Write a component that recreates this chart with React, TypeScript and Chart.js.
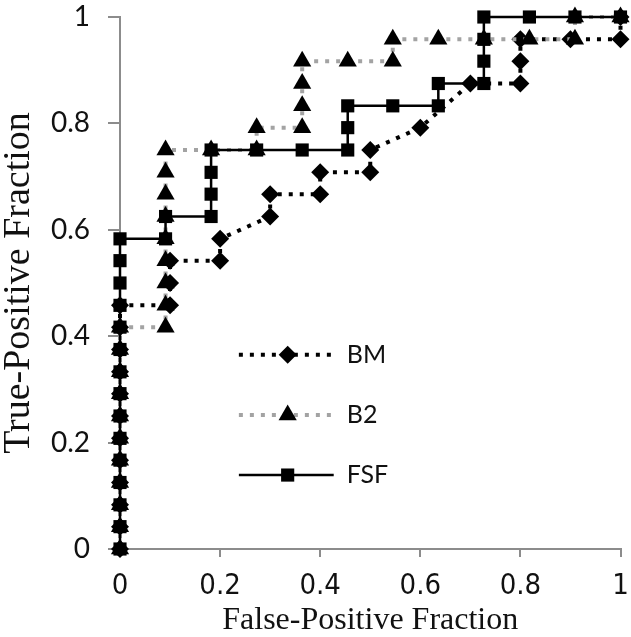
import React, { useEffect, useRef } from "react";
import { Chart, registerables } from "chart.js";

Chart.register(...registerables);

// ---- data ----
const seriesNames = ["BM", "B2", "FSF"];

const bmX = [0, 0, 0, 0, 0, 0, 0, 0, 0, 0, 0, 0, 0.1, 0.1, 0.1, 0.2, 0.2, 0.3, 0.3, 0.4, 0.4, 0.5, 0.5, 0.6, 0.7, 0.8, 0.8, 0.8, 0.9, 1, 1];
const bmY = [0, 0.042, 0.083, 0.125, 0.167, 0.208, 0.25, 0.292, 0.333, 0.375, 0.417, 0.458, 0.458, 0.5, 0.542, 0.542, 0.583, 0.625, 0.667, 0.667, 0.708, 0.708, 0.75, 0.792, 0.875, 0.875, 0.917, 0.958, 0.958, 0.958, 1];

const b2X = [0, 0, 0, 0, 0, 0, 0, 0, 0, 0, 0, 0.091, 0.091, 0.091, 0.091, 0.091, 0.091, 0.091, 0.091, 0.091, 0.182, 0.273, 0.273, 0.364, 0.364, 0.364, 0.364, 0.455, 0.545, 0.545, 0.636, 0.727, 0.818, 0.909, 0.909, 1];
const b2Y = [0, 0.042, 0.083, 0.125, 0.167, 0.208, 0.25, 0.292, 0.333, 0.375, 0.417, 0.417, 0.458, 0.5, 0.542, 0.583, 0.625, 0.667, 0.708, 0.75, 0.75, 0.75, 0.792, 0.792, 0.833, 0.875, 0.917, 0.917, 0.917, 0.958, 0.958, 0.958, 0.958, 0.958, 1, 1];

const fsfX = [0, 0, 0, 0, 0, 0, 0, 0, 0, 0, 0, 0, 0, 0, 0, 0.091, 0.091, 0.182, 0.182, 0.182, 0.182, 0.273, 0.364, 0.455, 0.455, 0.455, 0.545, 0.636, 0.636, 0.727, 0.727, 0.727, 0.727, 0.818, 0.909, 1];
const fsfY = [0, 0.042, 0.083, 0.125, 0.167, 0.208, 0.25, 0.292, 0.333, 0.375, 0.417, 0.458, 0.5, 0.542, 0.583, 0.583, 0.625, 0.625, 0.667, 0.708, 0.75, 0.75, 0.75, 0.75, 0.792, 0.833, 0.833, 0.833, 0.875, 0.875, 0.917, 0.958, 1, 1, 1, 1];

const xTickLabels = ["0", "0.2", "0.4", "0.6", "0.8", "1"];
const yTickLabels = ["0", "0.2", "0.4", "0.6", "0.8", "1"];

const xTitle = "False-Positive Fraction";
const yTitle = "True-Positive Fraction";

function toPoints(xs: number[], ys: number[]) {
  return xs.map((x, i) => ({ x, y: ys[i] }));
}

const AXIS_GRAY = "#8c8c8c";
const TEXT = "#111111";

function drawMarker(ctx: CanvasRenderingContext2D, style: string, r: number, x: number, y: number) {
  ctx.beginPath();
  if (style === "rectRot") {
    ctx.moveTo(x, y - r);
    ctx.lineTo(x + r, y);
    ctx.lineTo(x, y + r);
    ctx.lineTo(x - r, y);
  } else if (style === "triangle") {
    ctx.moveTo(x, y - r);
    ctx.lineTo(x + r * 0.866, y + r * 0.5);
    ctx.lineTo(x - r * 0.866, y + r * 0.5);
  } else {
    const s = r * Math.SQRT1_2;
    ctx.rect(x - s, y - s, 2 * s, 2 * s);
  }
  ctx.closePath();
  ctx.fillStyle = "#000";
  ctx.fill();
}

const insideLegend = {
  id: "insideLegend",
  afterDatasetsDraw(chart: any) {
    const { ctx, chartArea } = chart;
    const w = chartArea.right - chartArea.left;
    const h = chartArea.bottom - chartArea.top;
    seriesNames.forEach((name, i) => {
      const ds = chart.data.datasets.find((d: any) => d.label === name);
      if (!ds) return;
      const y = chartArea.top + h * (0.635 + i * 0.113);
      const x1 = chartArea.left + w * 0.2375;
      const x2 = chartArea.left + w * 0.427;
      const xm = chartArea.left + w * 0.335;
      ctx.save();
      ctx.strokeStyle = ds.borderColor;
      ctx.lineWidth = ds.borderWidth;
      ctx.setLineDash(ds.borderDash || []);
      ctx.beginPath();
      ctx.moveTo(x1, y);
      ctx.lineTo(x2, y);
      ctx.stroke();
      ctx.setLineDash([]);
      drawMarker(ctx, ds.pointStyle, ds.pointRadius, xm, y);
      ctx.fillStyle = TEXT;
      ctx.font = "25px Lato, 'Liberation Sans', sans-serif";
      ctx.textAlign = "left";
      ctx.textBaseline = "middle";
      ctx.fillText(name, chartArea.left + w * 0.453, y);
      ctx.restore();
    });
  },
};

function noEdgePadding(scale: any) {
  scale.paddingTop = 0;
  scale.paddingBottom = 0;
  scale.paddingLeft = 0;
  scale.paddingRight = 0;
}

export default function App() {
  const canvasRef = useRef<HTMLCanvasElement | null>(null);

  useEffect(() => {
    if (!canvasRef.current) return;
    const chart = new Chart(canvasRef.current, {
      type: "line",
      data: {
        datasets: [
          {
            label: "FSF",
            data: toPoints(fsfX, fsfY),
            borderColor: "#000000",
            borderWidth: 2.5,
            pointStyle: "rect",
            pointRadius: 9.3,
            pointBackgroundColor: "#000000",
            pointBorderColor: "#000000",
            pointBorderWidth: 0,
            tension: 0,
            clip: false,
          } as any,
          {
            label: "B2",
            data: toPoints(b2X, b2Y),
            borderColor: "#a3a3a3",
            borderWidth: 4,
            borderDash: [4, 7],
            pointStyle: "triangle",
            pointRadius: 10.5,
            pointBackgroundColor: "#000000",
            pointBorderColor: "#000000",
            pointBorderWidth: 0,
            tension: 0,
            clip: false,
          } as any,
          {
            label: "BM",
            data: toPoints(bmX, bmY),
            borderColor: "#000000",
            borderWidth: 4,
            borderDash: [4, 7],
            pointStyle: "rectRot",
            pointRadius: 9,
            pointBackgroundColor: "#000000",
            pointBorderColor: "#000000",
            pointBorderWidth: 0,
            tension: 0,
            clip: false,
          } as any,
        ],
      },
      options: {
        animation: false,
        responsive: false,
        maintainAspectRatio: false,
        layout: { padding: { top: 17, right: 9, left: 0, bottom: 0 } },
        plugins: {
          legend: { display: false },
          tooltip: { enabled: false },
        },
        events: [],
        scales: {
          x: {
            type: "linear",
            min: 0,
            max: 1,
            afterFit: (scale: any) => {
              scale.height = 88;
              noEdgePadding(scale);
            },
            afterBuildTicks: (scale: any) => {
              scale.ticks = xTickLabels.map((t) => ({ value: parseFloat(t) }));
            },
            ticks: {
              callback: (_v: any, i: number) => xTickLabels[i],
              color: TEXT,
              padding: 12,
              maxRotation: 0,
              autoSkip: false,
              font: { family: "'Liberation Sans Narrow', 'DejaVu Sans', sans-serif", weight: "400 condensed", size: 29 },
            },
            grid: {
              display: true,
              drawOnChartArea: false,
              drawTicks: true,
              tickLength: 8,
              color: AXIS_GRAY,
              lineWidth: 2,
            },
            border: { display: true, color: AXIS_GRAY, width: 2 },
            title: {
              display: true,
              text: xTitle,
              color: TEXT,
              padding: { top: 0, bottom: 0 },
              font: { family: "'Liberation Serif', serif", size: 32, lineHeight: 1 },
            },
          },
          y: {
            type: "linear",
            min: 0,
            max: 1,
            afterFit: (scale: any) => {
              scale.width = 120;
              noEdgePadding(scale);
            },
            afterBuildTicks: (scale: any) => {
              scale.ticks = yTickLabels.map((t) => ({ value: parseFloat(t) }));
            },
            ticks: {
              callback: (_v: any, i: number) => yTickLabels[i],
              color: TEXT,
              padding: 18,
              autoSkip: false,
              font: { family: "Lato, 'Liberation Sans', sans-serif", size: 28 },
            },
            grid: {
              display: true,
              drawOnChartArea: false,
              drawTicks: true,
              tickLength: 12,
              color: AXIS_GRAY,
              lineWidth: 2,
            },
            border: { display: true, color: AXIS_GRAY, width: 2 },
            title: {
              display: true,
              text: yTitle,
              color: TEXT,
              padding: { top: 0, bottom: 0 },
              font: { family: "'Liberation Serif', serif", size: 38, lineHeight: 1 },
            },
          },
        },
      } as any,
      plugins: [insideLegend],
    });
    return () => chart.destroy();
  }, []);

  return (
    <div style={{ position: "absolute", left: 0, top: 0, width: 631, height: 637, background: "#fff" }}>
      <canvas ref={canvasRef} width={631} height={637} style={{ display: "block", width: 631, height: 637 }} />
    </div>
  );
}
